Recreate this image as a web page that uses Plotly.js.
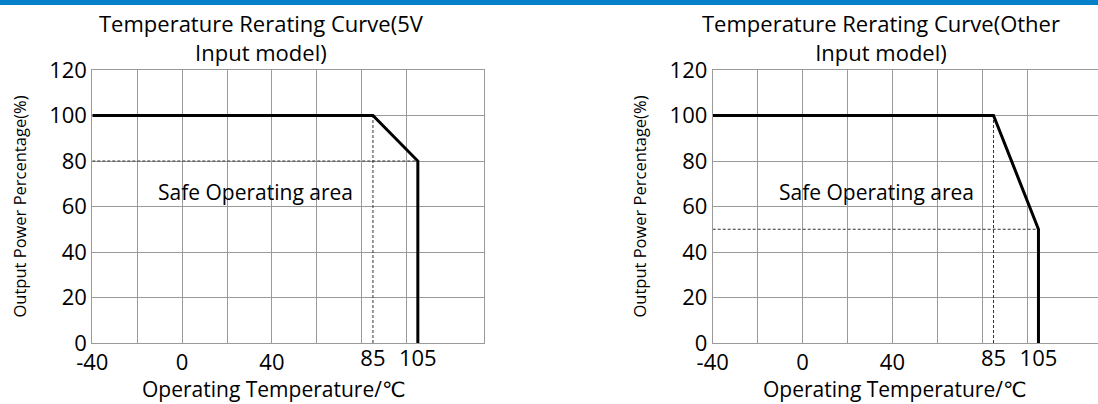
<!DOCTYPE html>
<html>
<head>
<meta charset="utf-8">
<script src="https://cdn.plot.ly/plotly-3.0.1.min.js"></script>
<style>
  html, body { margin: 0; padding: 0; background: #fff; }
  #wrap { position: relative; width: 1098px; height: 404px; overflow: hidden; }
  #bar { position: absolute; left: 0; top: 0; width: 1098px; height: 5px; background: #0580c8; z-index: 5; }
  #chart { position: absolute; left: 0; top: 0; width: 1098px; height: 404px; }
</style>
</head>
<body>
<div id="wrap">
  <div id="bar"></div>
  <div id="chart"></div>
</div>
<script>
// Derating curves: output power (%) versus ambient temperature (°C)
const temps5V = [-40, 85, 105, 105];
const power5V = [100, 100, 80, 0];
const tempsOther = [-40, 85, 105, 105];
const powerOther = [100, 100, 50, 0];

// Reference guides (dashed)
const kneeTemp = 85;
const kneePower = 100;
const endTemp = 105;
const floor5V = 80;
const floorOther = 50;

// Axis ticks
const gridTemps = [-40, -20, 0, 20, 40, 60, 80, 100];
const rangeTemps = [-40, 0, 40];     // evenly spaced range labels
const keyTemps = [85, 105];          // knee / cut-off labels, set a little higher
const powerTicks = [0, 20, 40, 60, 80, 100, 120];

const titles = ['Temperature Rerating Curve(5V<br>Input model)',
                'Temperature Rerating Curve(Other<br>Input model)'];
const xTitle = 'Operating Temperature/\u2103';
const yTitle = 'Output Power Percentage(%)';
const areaLabel = 'Safe Operating area';

const FONT = '"Open Sans", "DejaVu Sans", sans-serif';
const W = 1098, H = 404;
const px = v => v / W;
const py = v => 1 - v / H;

const curveStyle = {color: '#000', width: 3};
const guideStyle = {color: '#333', width: 1, dash: '3px,2px'};

function curve(x, y, xa, ya) {
  return {x, y, xaxis: xa, yaxis: ya, type: 'scatter', mode: 'lines',
          line: curveStyle, hoverinfo: 'skip', showlegend: false};
}
function guide(x, y, xa, ya) {
  return {x, y, xaxis: xa, yaxis: ya, type: 'scatter', mode: 'lines',
          line: guideStyle, hoverinfo: 'skip', showlegend: false};
}
function carrier(xa, ya) {
  return {x: [gridTemps[0]], y: [0], xaxis: xa, yaxis: ya, mode: 'none', type: 'scatter',
          hoverinfo: 'skip', showlegend: false};
}

const data = [
  guide([kneeTemp, kneeTemp], [0, kneePower], 'x', 'y'),
  guide([temps5V[0], endTemp], [floor5V, floor5V], 'x', 'y'),
  curve(temps5V, power5V, 'x', 'y'),
  guide([kneeTemp, kneeTemp], [0, kneePower], 'x2', 'y2'),
  guide([tempsOther[0], endTemp], [floorOther, floorOther], 'x2', 'y2'),
  curve(tempsOther, powerOther, 'x2', 'y2'),
  // invisible carriers for the labelled temperature axes
  carrier('x3', 'y'), carrier('x4', 'y2'), carrier('x5', 'y'), carrier('x6', 'y2')
];

const gridColor = '#9a9a9a';
const yDomain = [py(343), py(70)];
const leftDom = [px(92.3), px(484.3)];
const rightDom = [px(712.7), 1];

function gridX(domain, range, anchor) {
  return {domain, range, anchor, tickvals: gridTemps, showticklabels: false,
          ticks: '', showgrid: true, gridcolor: gridColor, gridwidth: 1,
          showline: true, linecolor: gridColor, linewidth: 1, mirror: true,
          zeroline: false, fixedrange: true};
}
function labelX(over, range, anchor, vals, standoff) {
  return {overlaying: over, range, anchor, tickvals: vals, ticktext: vals.map(String),
          showgrid: false, zeroline: false, showline: false, ticks: '',
          tickfont: {family: FONT, size: 22, color: '#000'}, ticklabelstandoff: standoff,
          fixedrange: true};
}
function axisY(anchor) {
  return {domain: yDomain, range: [0, 120], anchor, tickvals: powerTicks,
          tickfont: {family: FONT, size: 22, color: '#000'}, ticks: '',
          showgrid: true, gridcolor: gridColor, gridwidth: 1,
          showline: true, linecolor: gridColor, linewidth: 1, mirror: true,
          zeroline: false, ticklabelstandoff: 0,
          title: {text: yTitle, font: {family: FONT, size: 16.5, color: '#000'}, standoff: 18},
          fixedrange: true};
}

const leftRange = [-40, 134.6];
const rightRange = [-40, 131.5];

const textFont = size => ({family: FONT, size, color: '#000'});

const layout = {
  width: W, height: H,
  margin: {l: 0, r: 0, t: 0, b: 0},
  paper_bgcolor: '#fff', plot_bgcolor: '#fff',
  showlegend: false,
  font: {family: FONT, color: '#000'},
  xaxis: gridX(leftDom, leftRange, 'y'),
  xaxis2: gridX(rightDom, rightRange, 'y2'),
  xaxis3: labelX('x', leftRange, 'y', rangeTemps, 4),
  xaxis4: labelX('x2', rightRange, 'y2', rangeTemps, 4),
  xaxis5: labelX('x', leftRange, 'y', keyTemps, 0),
  xaxis6: labelX('x2', rightRange, 'y2', keyTemps, 0),
  yaxis: axisY('x'),
  yaxis2: axisY('x2'),
  annotations: [
    {text: titles[0], xref: 'paper', yref: 'paper', x: px(261), y: py(6), xanchor: 'center', yanchor: 'top',
     showarrow: false, font: textFont(22)},
    {text: titles[1], xref: 'paper', yref: 'paper', x: px(881), y: py(6), xanchor: 'center', yanchor: 'top',
     showarrow: false, font: textFont(22)},
    {text: xTitle, xref: 'paper', yref: 'paper', x: px(273), y: py(389), xanchor: 'center', yanchor: 'middle',
     showarrow: false, font: textFont(21)},
    {text: xTitle, xref: 'paper', yref: 'paper', x: px(894), y: py(389), xanchor: 'center', yanchor: 'middle',
     showarrow: false, font: textFont(21)},
    {text: areaLabel, xref: 'x', yref: 'y', x: 32.7, y: 66.5, showarrow: false, font: textFont(21)},
    {text: areaLabel, xref: 'x2', yref: 'y2', x: 33, y: 66.5, showarrow: false, font: textFont(21)}
  ]
};

Plotly.newPlot('chart', data, layout, {staticPlot: true, displayModeBar: false});
</script>
</body>
</html>
